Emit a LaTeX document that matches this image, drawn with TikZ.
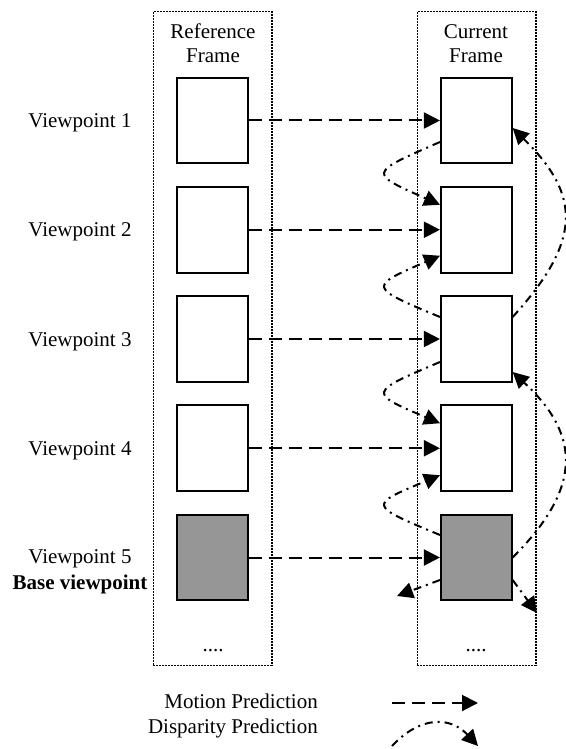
\documentclass[tikz,border=0pt]{standalone}
\usepackage{fontspec}
\setmainfont{Liberation Serif}
\usetikzlibrary{arrows.meta,calc}
\definecolor{basegray}{RGB}{150,150,150}
\begin{document}
\begin{tikzpicture}[x=1pt,y=-1pt,
  txt/.style={font=\fontsize{21}{24}\selectfont, inner sep=0pt},
  column/.style={draw, line width=1.5pt, dash pattern=on 1.5pt off 1.5pt,
    minimum width=118.5pt, minimum height=653.5pt, inner sep=0pt},
  viewbox/.style={draw, line width=2pt, fill=white, minimum width=70.7pt,
    minimum height=85.6pt, inner sep=0pt},
  basebox/.style={viewbox, fill=basegray},
  tip/.style={-{Triangle[length=16pt,width=16pt]}},
  motion/.style={tip, line width=2pt, dash pattern=on 13pt off 7pt},
  disparity/.style={tip, line width=2pt, dash pattern=on 8pt off 5pt on 2pt off 5pt}]
\useasboundingbox (0,0) rectangle (565,749);

% frame columns
\node[column] (refcol) at (212.6,338.5) {};
\node[column] (curcol) at (476.7,338.5) {};

% column headings (base anchor sits on the last line)
\node[txt, align=center, anchor=base] (refhead) at (213,63) {Reference\\Frame};
\node[txt, align=center, anchor=base] (curhead) at (476,63) {Current\\Frame};

% view boxes: reference frame (r) and current frame (c)
\foreach \i/\y in {1/120.5,2/229.75,3/339,4/448.25} {
  \node[viewbox] (r\i) at (212.8,\y) {};
  \node[viewbox] (c\i) at (476.3,\y) {};
}
\node[basebox] (r5) at (212.8,557.5) {};
\node[basebox] (c5) at (476.3,557.5) {};

% trailing dots
\node[txt, anchor=base] (rdots) at (213,651) {....};
\node[txt, anchor=base] (cdots) at (476,651) {....};

% viewpoint labels
\node[txt, anchor=base] (v1) at (80,127.5) {Viewpoint 1};
\node[txt, anchor=base] (v2) at (80,236.5) {Viewpoint 2};
\node[txt, anchor=base] (v3) at (80,346) {Viewpoint 3};
\node[txt, anchor=base] (v4) at (80,455) {Viewpoint 4};
\node[txt, anchor=base] (v5) at (80,563) {Viewpoint 5};
\node[txt, anchor=base, font=\fontsize{21}{24}\selectfont\bfseries] (vb) at (80,589) {Base viewpoint};

% motion prediction (reference -> current)
\foreach \i in {1,...,5} {
  \draw[motion] (r\i.east) -- (c\i.west);
}

% disparity prediction on the left side of the current frame
\draw[disparity] ($(c1.west)+(0,21.5)$) .. controls +(-72,31.5) and +(-72,-32) .. ($(c2.west)+(0,-25)$);
\draw[disparity] ($(c3.west)+(0,-22)$) .. controls +(-72,-30) and +(-72,31) .. ($(c2.west)+(0,26)$);
\draw[disparity] ($(c3.west)+(0,23)$) .. controls +(-72,30.5) and +(-72,-30.5) .. ($(c4.west)+(0,-25)$);
\draw[disparity] ($(c5.west)+(0,-22.5)$) .. controls +(-72,-30) and +(-72,30) .. ($(c4.west)+(0,27)$);
\coordinate (outleft) at (397,596);
\draw[disparity] ($(c5.west)+(0,22.5)$) -- (outleft);

% disparity prediction on the right side of the current frame
\draw[disparity] ($(c3.east)+(0,-22)$) .. controls +(70,-77) and +(68,67) .. ($(c1.east)+(0,7.5)$);
\draw[disparity] (c5.east) .. controls +(70,-70) and +(68,63) .. ($(c3.east)+(0,33)$);
\coordinate (outright) at (537,613);
\draw[disparity] ($(c5.east)+(0,22.5)$) -- (outright);

% legend
\node[txt, anchor=base east] (lmotion) at (318,708) {Motion Prediction};
\node[txt, anchor=base east] (ldisp) at (318,733) {Disparity Prediction};
\coordinate (lm1) at (392,703);
\coordinate (lm2) at (478,703);
\draw[motion] (lm1) -- (lm2);
\coordinate (ld1) at (392,746);
\coordinate (ld2) at (478,746);
\draw[disparity] (ld1) .. controls (420,716) and (450,716) .. (ld2);
\end{tikzpicture}
\end{document}
